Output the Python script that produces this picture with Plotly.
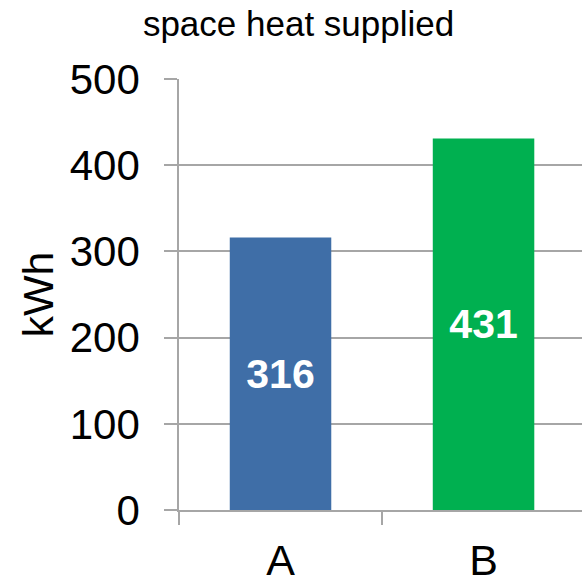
import plotly.graph_objects as go

categories = ["A", "B"]
values = [316, 431]
colors = ["#3F6EA7", "#00B050"]
y_ticks = [0, 100, 200, 300, 400, 500]

grid = "#A6A6A6"
font = "Liberation Sans, Arial, sans-serif"

fig = go.Figure(go.Bar(
    x=categories, y=values, marker=dict(color=colors, line=dict(width=0)),
    width=0.5, text=[str(v) for v in values], textposition="inside",
    insidetextanchor="middle",
    textfont=dict(family=font, size=41, color="white", weight="bold"),
))

fig.update_layout(
    width=582, height=577,
    margin=dict(l=179, r=0, t=79, b=67),
    paper_bgcolor="white", plot_bgcolor="white",
    showlegend=False,
    title=dict(text="space heat supplied", x=0.513, xanchor="center", y=0.958, yanchor="middle",
               font=dict(family=font, size=35, color="black")),
    font=dict(family=font, color="black"),
)
fig.update_xaxes(
    type="category", range=[-0.5, 1.485], showgrid=False, automargin=False,
    showline=True, linecolor=grid, linewidth=1.5,
    ticks="outside", tickson="boundaries", ticklen=13, tickcolor=grid, tickwidth=1.5,
    tickfont=dict(size=43, family=font, color="black"), ticklabelstandoff=12,
)
fig.update_yaxes(
    range=[0, 500], tickvals=y_ticks, showgrid=True, gridcolor=grid, gridwidth=1.5,
    showline=True, linecolor=grid, linewidth=1.5, zeroline=False, automargin=False,
    ticks="outside", ticklen=13, tickcolor=grid, tickwidth=1.5,
    tickfont=dict(size=42, family=font, color="black"), ticklabelstandoff=16,
    title=dict(text="kWh", font=dict(size=43, family=font, color="black"), standoff=3),
)

fig.write_html(
    "out.html",
    config={"displayModeBar": False},
    post_script="document.body.style.margin='0';document.body.style.overflow='hidden';"
                "document.documentElement.style.overflow='hidden';",
)
